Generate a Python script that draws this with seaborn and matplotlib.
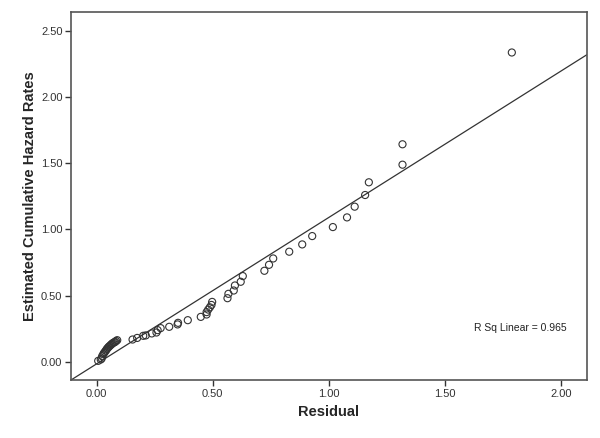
import matplotlib
matplotlib.use("Agg")
import matplotlib.pyplot as plt
import seaborn as sns
import pandas as pd

residual = [1.789, 1.318, 1.318, 1.173, 1.157, 1.112, 1.079, 1.018, 0.929, 0.886,
            0.830, 0.761, 0.743, 0.723, 0.630, 0.621, 0.596, 0.591, 0.568, 0.564,
            0.498, 0.495, 0.488, 0.481, 0.474, 0.474, 0.449, 0.393, 0.351, 0.349,
            0.313, 0.276, 0.263, 0.258, 0.238, 0.212, 0.201, 0.175, 0.155,
            0.089, 0.084, 0.080, 0.076, 0.072, 0.068, 0.065, 0.061, 0.057, 0.053,
            0.050, 0.046, 0.043, 0.040, 0.036, 0.032, 0.029, 0.024, 0.022, 0.018, 0.007]
hazard = [2.336, 1.643, 1.489, 1.356, 1.260, 1.172, 1.091, 1.018, 0.950, 0.887,
          0.832, 0.781, 0.733, 0.688, 0.648, 0.605, 0.577, 0.539, 0.514, 0.481,
          0.453, 0.430, 0.412, 0.395, 0.376, 0.358, 0.340, 0.315, 0.295, 0.283,
          0.265, 0.255, 0.240, 0.222, 0.215, 0.200, 0.197, 0.181, 0.169,
          0.164, 0.158, 0.151, 0.148, 0.144, 0.139, 0.134, 0.128, 0.121, 0.115,
          0.109, 0.101, 0.094, 0.085, 0.076, 0.067, 0.058, 0.043, 0.026, 0.018, 0.008]

fit_intercept = -0.015
fit_slope = 1.105
r_sq = 0.965

x_ticks = [0.0, 0.5, 1.0, 1.5, 2.0]
y_ticks = [0.0, 0.5, 1.0, 1.5, 2.0, 2.5]

df = pd.DataFrame({"Residual": residual, "Hazard": hazard})

sns.set_style("white")
plt.rcParams["font.family"] = ["Liberation Sans", "DejaVu Sans"]

fig = plt.figure(figsize=(6.0, 4.38), dpi=100)
ax = fig.add_axes([0.118, 0.132, 0.860, 0.841])

sns.scatterplot(data=df, x="Residual", y="Hazard", ax=ax, marker="o", s=26,
                facecolors="none", edgecolors="#333333", linewidth=0.8, zorder=3)
ax.axline((0, fit_intercept), slope=fit_slope, color="#333333", lw=0.9, zorder=2)

ax.set_xlim(-0.111, 2.112)
ax.set_ylim(-0.138, 2.643)
ax.set_xticks(x_ticks)
ax.set_yticks(y_ticks)
ax.set_xticklabels([f"{v:.2f}" for v in x_ticks])
ax.set_yticklabels([f"{v:.2f}" for v in y_ticks])
ax.tick_params(axis="both", direction="out", length=4, width=1, color="#333333",
               labelsize=8, labelcolor="#333333", pad=2, bottom=True, left=True)
for sp in ax.spines.values():
    sp.set_color("#555555")
    sp.set_linewidth(1.2)

ax.set_xlabel("Residual", fontsize=10.5, fontweight="bold", labelpad=5)
ax.set_ylabel("Estimated Cumulative Hazard Rates", fontsize=10.5, fontweight="bold", labelpad=3)

ax.text(0.867, 0.2513, f"R Sq Linear = {r_sq}", transform=fig.transFigure,
        ha="center", va="center", fontsize=7.5, color="#222222")

fig.savefig("out.png", dpi=100)
